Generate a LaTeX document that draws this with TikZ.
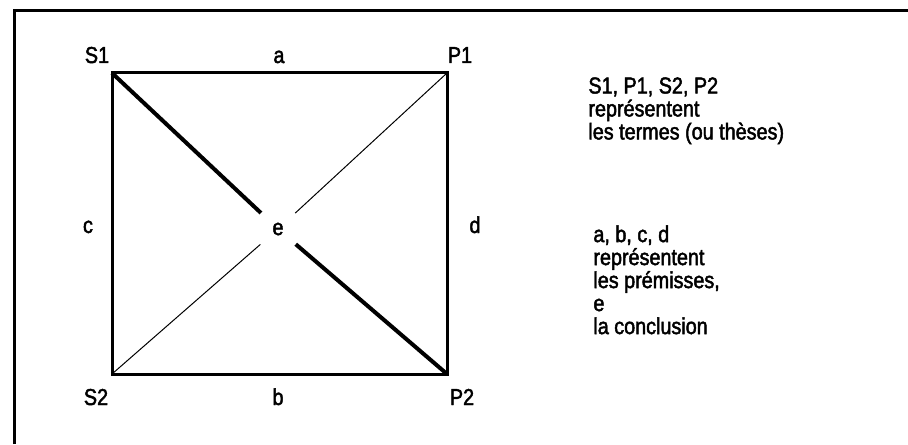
\documentclass[tikz,border=0pt]{standalone}
\usepackage{fontspec}
\setmainfont[FakeStretch=0.86,FakeBold=2]{Liberation Sans}
\usepackage{tikz}

\begin{document}
\begin{tikzpicture}[
  x=0.5pt, y=-0.5pt,
  font=\fontsize{11.5}{11.5}\selectfont,
  frame/.style={line width=1.5pt},
  side/.style={line width=1.5pt},
  heavy/.style={line width=2pt},
  thin/.style={line width=0.5pt},
  lbl/.style={anchor=base, inner sep=0pt},
  note/.style={anchor=north west, align=left, inner sep=0pt}
]
\useasboundingbox (0,0) rectangle (908,444);
\draw[frame] (14,444) -- (14,11) -- (908,11);

\coordinate (S1) at (112,73);
\coordinate (P1) at (447,73);
\coordinate (S2) at (112,374);
\coordinate (P2) at (447,374);
\node[circle, inner sep=0pt, minimum size=23pt] (e) at (278,229) {e};

\draw[side] (S1) -- (P1) -- (P2) -- (S2) -- cycle;
\draw[heavy] (S1) -- (e) -- (P2);
\draw[thin] (S2) -- (e) -- (P1);

\node[lbl] (lS1) at (97,63) {S1};
\node[lbl] (la) at (279,63) {a};
\node[lbl] (lP1) at (460,63) {P1};
\node[lbl] (lc) at (88,233) {c};
\node[lbl] (ld) at (475,233) {d};
\node[lbl] (lS2) at (96,405) {S2};
\node[lbl] (lb) at (278,405) {b};
\node[lbl] (lP2) at (462,405) {P2};

\node[note] (termes) at (588,77) {S1, P1, S2, P2\\repr\'esentent\\les termes (ou th\`eses)};
\node[note] (premisses) at (593,225) {a, b, c, d\\repr\'esentent\\les pr\'emisses,\\e\\la conclusion};
\end{tikzpicture}
\end{document}
